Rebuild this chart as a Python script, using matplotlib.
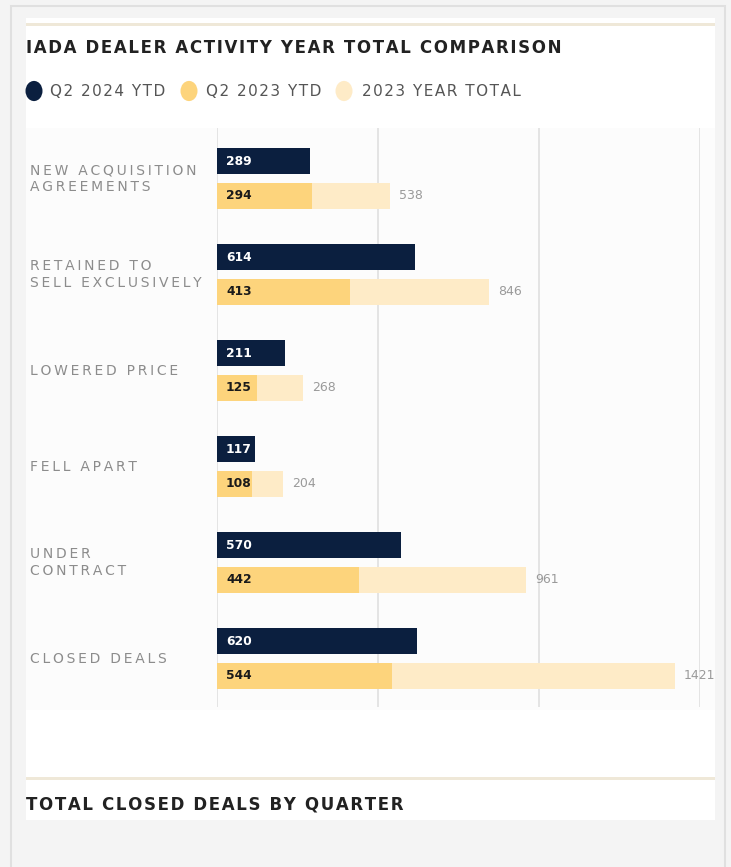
"""IADA dealer activity: year total comparison bar chart."""

import matplotlib.pyplot as plt
import numpy as np
from matplotlib.patches import Circle, Rectangle
from matplotlib.transforms import blended_transform_factory

W, H = 731, 867

categories = [
    "NEW ACQUISITION\nAGREEMENTS",
    "RETAINED TO\nSELL EXCLUSIVELY",
    "LOWERED PRICE",
    "FELL APART",
    "UNDER\nCONTRACT",
    "CLOSED DEALS",
]
q2_2024_ytd = [289, 614, 211, 117, 570, 620]
q2_2023_ytd = [294, 413, 125, 108, 442, 544]
year_total_2023 = [538, 846, 268, 204, 961, 1421]
series_names = ["Q2 2024 YTD", "Q2 2023 YTD", "2023 YEAR TOTAL"]

NAVY = "#0b1f3f"
GOLD = "#fdd47c"
CREAM = "#feebc7"
BEIGE = "#efe8d8"

plt.rcParams["font.family"] = ["DejaVu Sans"]


def px(x, y):
    """Pixel coordinates (top-left origin) to figure fraction."""
    return x / W, 1 - y / H


def tracked(s, gap="\u200a"):
    # fake letter spacing with hair spaces
    return "\n".join(gap.join(line) for line in s.split("\n"))


def box(x0, y0, x1, y1, **kw):
    fig.patches.append(Rectangle(px(x0, y1), (x1 - x0) / W, (y1 - y0) / H,
                                 transform=fig.transFigure, zorder=-5, **kw))


fig = plt.figure(figsize=(W / 100, H / 100), dpi=100)
fig.patch.set_facecolor("#f4f4f4")

# page frame, white card and the light plot panel
box(11, 6, 725, H + 5, facecolor="#f4f4f4", edgecolor="#e0e0e0", linewidth=1.5)
box(26, 18, 715, 820, facecolor="white", edgecolor="none")
box(26, 128, 715, 710, facecolor="#fcfcfc", edgecolor="none")
for y in (23, 777):
    box(26, y, 715, y + 3, facecolor=BEIGE, edgecolor="none")

fig.text(*px(26, 48), tracked("IADA DEALER ACTIVITY YEAR TOTAL COMPARISON"), fontsize=12,
         fontweight="bold", color="#222222", va="center", ha="left")
fig.text(*px(26, 804), tracked("TOTAL CLOSED DEALS BY QUARTER"), fontsize=12,
         fontweight="bold", color="#222222", va="center", ha="left")

# legend
for cx, tx, color, name in zip((34, 189, 344), (50, 206, 362), (NAVY, GOLD, CREAM), series_names):
    fig.patches.append(Circle(px(cx, 91), 8.5 / W, transform=fig.transFigure,
                              facecolor=color, edgecolor="none"))
    fig.text(*px(tx, 91), tracked(name), fontsize=11, color="#555555", va="center", ha="left")

# bars
left, right, top, bottom = 217, 700, 128, 707
ax = fig.add_axes([left / W, 1 - bottom / H, (right - left) / W, (bottom - top) / H])
ax.set_facecolor("none")

pos = np.arange(len(categories))
offset = 0.182
height = 0.27
ax.set_xlim(0, 1500)
ax.set_ylim(pos[-1] + 0.505, pos[0] - 0.526)

ax.barh(pos - offset, q2_2024_ytd, height=height, color=NAVY, zorder=3)
ax.barh(pos + offset, year_total_2023, height=height, color=CREAM, zorder=3)
ax.barh(pos + offset, q2_2023_ytd, height=height, color=GOLD, zorder=4)

label_tf = blended_transform_factory(fig.transFigure, ax.transData)
for i in range(len(categories)):
    ax.text(28, pos[i] - offset, str(q2_2024_ytd[i]), color="white", fontsize=8.8,
            fontweight="bold", va="center", ha="left", zorder=5)
    ax.text(28, pos[i] + offset, str(q2_2023_ytd[i]), color="#1a1a1a", fontsize=8.8,
            fontweight="bold", va="center", ha="left", zorder=5)
    ax.text(year_total_2023[i] + 28, pos[i] + offset, str(year_total_2023[i]), color="#9a9a9a",
            fontsize=9, va="center", ha="left", zorder=5)
    ax.text(30 / W, pos[i], tracked(categories[i], "\u2009"), transform=label_tf,
            fontsize=10, color="#8c8c8c", va="center", ha="left", linespacing=1.25)

ax.set_xticks([0, 500, 1000, 1500])
ax.grid(axis="x", color="#e0e0e0", linewidth=1.2, zorder=0)
ax.tick_params(length=0, labelbottom=False, labelleft=False)
for spine in ax.spines.values():
    spine.set_visible(False)

fig.savefig("out.png", dpi=100)
